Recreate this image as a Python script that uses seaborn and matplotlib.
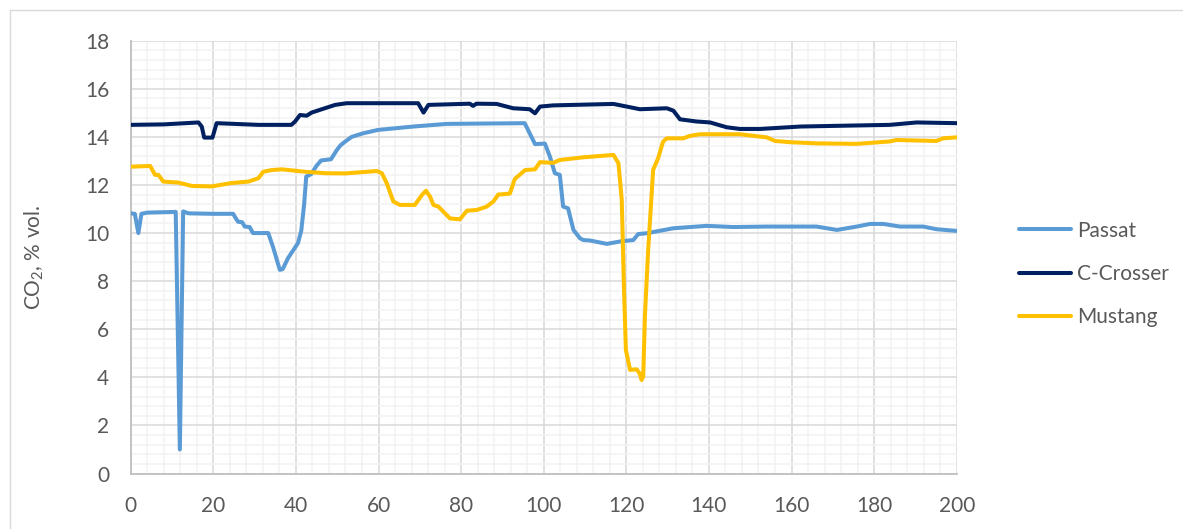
import matplotlib
matplotlib.use("Agg")
import matplotlib.pyplot as plt
from matplotlib.lines import Line2D
from matplotlib.ticker import MultipleLocator
import numpy as np
import pandas as pd
import seaborn as sns

# CO2 readings over time for three vehicles
passat_x = [0, 1.0, 1.85, 2.6, 4, 10.9, 11.9, 12.7, 14, 20, 24.8, 25.5, 26.0, 27.0, 27.6,
            28.8, 29.6, 33.3, 34.5, 36.1, 36.8, 38.1, 40.5, 41.3, 42.0, 42.5, 43.7, 45.0,
            46.1, 48.5, 49.9, 50.8, 51.9, 53.5, 56.3, 59.9, 68.4, 76.5, 95.4, 96.6, 97.9,
            100.3, 101.5, 102.7, 103.9, 104.7, 105.9, 107.2, 108.8, 109.6, 111.2, 115.3,
            118.5, 121.7, 122.9, 124.9, 131.4, 139.5, 145.9, 154.0, 166.1, 171.0, 175.8,
            179.0, 182.2, 186.3, 191.9, 195.1, 200]
passat_y = [10.82, 10.8, 10.0, 10.8, 10.85, 10.88, 1.0, 10.9, 10.82, 10.8, 10.8, 10.6, 10.47,
            10.45, 10.27, 10.25, 10.0, 10.0, 9.4, 8.47, 8.5, 8.96, 9.58, 10.1, 11.2, 12.35,
            12.45, 12.8, 13.02, 13.07, 13.45, 13.65, 13.8, 14.0, 14.15, 14.29, 14.43, 14.54,
            14.57, 14.15, 13.7, 13.72, 13.18, 12.49, 12.42, 11.1, 11.03, 10.13, 9.78, 9.71,
            9.69, 9.55, 9.65, 9.71, 9.96, 9.99, 10.2, 10.3, 10.25, 10.27, 10.27, 10.13, 10.27,
            10.38, 10.38, 10.27, 10.27, 10.16, 10.09]

crosser_x = [0, 8, 16.4, 17.2, 17.8, 19.8, 20.8, 30.9, 38.9, 39.8, 41.0, 42.6, 43.8, 47.0,
             49.5, 52.3, 69.6, 70.9, 72.1, 82.1, 82.9, 83.7, 88.6, 92.6, 96.6, 97.9, 99.1,
             102.3, 116.9, 120.1, 123.3, 129.8, 131.4, 133.0, 137.0, 140.3, 144.3, 147.5,
             152.4, 162.1, 174.2, 183.8, 190.3, 200]
crosser_y = [14.5, 14.52, 14.6, 14.43, 13.97, 13.97, 14.57, 14.5, 14.5, 14.64, 14.91, 14.88,
             15.01, 15.19, 15.33, 15.4, 15.4, 15.01, 15.33, 15.38, 15.29, 15.38, 15.37, 15.19,
             15.15, 14.98, 15.26, 15.31, 15.37, 15.26, 15.15, 15.19, 15.09, 14.73, 14.64,
             14.6, 14.4, 14.33, 14.33, 14.43, 14.47, 14.5, 14.6, 14.57]

mustang_x = [0, 4.7, 5.9, 6.7, 7.9, 11.5, 14.8, 19.6, 24.4, 28.5, 30.9, 32.1, 34.1, 36.6,
             42.2, 47.0, 51.9, 59.6, 60.8, 62.0, 63.6, 65.2, 68.8, 70.5, 71.5, 72.5, 73.3,
             74.5, 76.1, 77.3, 79.7, 81.4, 83.8, 86.2, 87.8, 89.0, 91.8, 93.0, 94.7, 95.5,
             97.9, 99.1, 102.3, 103.9, 109.6, 116.9, 118.1, 118.9, 119.4, 119.9, 120.9,
             122.5, 123.2, 123.7, 124.1, 124.5, 125.3, 126.5, 127.7, 128.9, 129.8, 133.8,
             135.4, 137.8, 147.5, 152.4, 154.0, 156.0, 159.6, 166.1, 175.8, 183.8, 185.4,
             195.1, 196.7, 200]
mustang_y = [12.76, 12.79, 12.42, 12.42, 12.14, 12.1, 11.96, 11.94, 12.08, 12.14, 12.28,
             12.55, 12.62, 12.65, 12.55, 12.49, 12.48, 12.58, 12.49, 12.07, 11.31, 11.17,
             11.17, 11.58, 11.76, 11.51, 11.17, 11.1, 10.82, 10.61, 10.57, 10.93, 10.96,
             11.1, 11.31, 11.6, 11.64, 12.25, 12.5, 12.62, 12.65, 12.95, 12.92, 13.04, 13.15,
             13.25, 12.9, 11.38, 7.91, 5.14, 4.31, 4.33, 4.17, 3.89, 4.03, 6.53, 9.3, 12.63,
             13.11, 13.8, 13.94, 13.94, 14.04, 14.11, 14.11, 14.01, 13.98, 13.83, 13.78,
             13.73, 13.71, 13.81, 13.87, 13.83, 13.94, 13.98]

series_names = ["Passat", "C-Crosser", "Mustang"]
series_colors = ["#5B9BD5", "#002060", "#FFC000"]
x_ticks = list(range(0, 201, 20))
y_ticks = list(range(0, 19, 2))

df = pd.concat([
    pd.DataFrame({"t": passat_x, "co2": passat_y, "car": "Passat"}),
    pd.DataFrame({"t": crosser_x, "co2": crosser_y, "car": "C-Crosser"}),
    pd.DataFrame({"t": mustang_x, "co2": mustang_y, "car": "Mustang"}),
], ignore_index=True)

sns.set_theme(style="white")
plt.rcParams["font.family"] = ["Lato", "DejaVu Sans"]
plt.rcParams["mathtext.fontset"] = "custom"
plt.rcParams["mathtext.rm"] = "Lato"
plt.rcParams["mathtext.it"] = "Lato:italic"

W, H = 1183, 529
fig = plt.figure(figsize=(W / 100, H / 100), dpi=100)
ax = fig.add_axes([130.7 / W, 1 - 473.5 / H, (956.7 - 130.7) / W, (473.5 - 40.7) / H])

sns.lineplot(data=df, x="t", y="co2", hue="car", hue_order=series_names,
             palette=dict(zip(series_names, series_colors)), estimator=None,
             sort=False, linewidth=2.9, ax=ax, legend=False, zorder=3)

text_color = "#595959"
fs = 15
ax.set_xlim(0, 200)
ax.set_ylim(0, 18)
ax.set_xticks(x_ticks)
ax.set_yticks(y_ticks)
ax.set_xticklabels([str(v) for v in x_ticks])
ax.set_yticklabels([str(v) for v in y_ticks])
ax.xaxis.set_minor_locator(MultipleLocator(4))
ax.yaxis.set_minor_locator(MultipleLocator(0.4))
ax.grid(which="minor", color="#F2F2F2", linewidth=1.1, zorder=0)
ax.grid(which="major", color="#D9D9D9", linewidth=1.1, zorder=1)
ax.set_axisbelow(True)
ax.tick_params(which="major", axis="both", direction="out", length=5.5, width=1.1,
               color="#BFBFBF", labelcolor=text_color, labelsize=fs)
ax.tick_params(which="major", axis="y", pad=10)
ax.tick_params(which="major", axis="x", pad=11)
ax.tick_params(which="minor", length=0)
for side in ["top", "right"]:
    ax.spines[side].set_visible(False)
for side in ["left", "bottom"]:
    ax.spines[side].set_color("#BFBFBF")
    ax.spines[side].set_linewidth(1.3)
ax.set_xlabel("")
ax.set_ylabel("CO$_2$, % vol.", color=text_color, fontsize=fs)
ax.yaxis.set_label_coords((46 - 130.7) / (956.7 - 130.7), 0.5)

handles = [Line2D([0], [0], color=c, linewidth=2.9) for c in series_colors]
fig.legend(handles, series_names, loc="center left",
           bbox_to_anchor=(1000 / W, 1 - 274 / H), frameon=False,
           fontsize=fs, labelcolor=text_color, handlelength=2.5,
           handletextpad=0.3, labelspacing=1.12)

# chart area border
fig.add_artist(Line2D([10 / W, 10 / W], [0, 1 - 10 / H], color="#D9D9D9", linewidth=1.0))
fig.add_artist(Line2D([10 / W, 1], [1 - 10 / H, 1 - 10 / H], color="#D9D9D9", linewidth=1.0))

fig.savefig("out.png", dpi=100, facecolor="white")
